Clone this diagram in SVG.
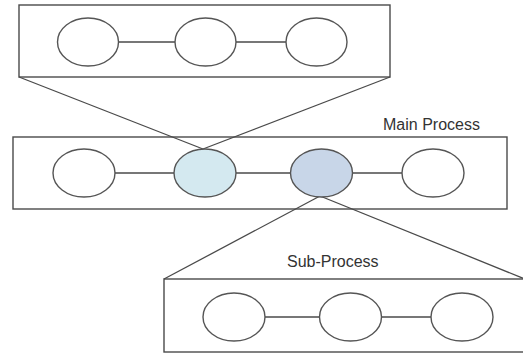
<svg xmlns="http://www.w3.org/2000/svg" width="523" height="353" viewBox="0 0 523 353">
<style>
.box{fill:none;stroke:#4a4a4a;stroke-width:1.4}
.node{fill:#fff;stroke:#555;stroke-width:1.4}
.ln{stroke:#4a4a4a;stroke-width:1.3;fill:none}
.lbl{font-family:"Liberation Sans",Arial,sans-serif;font-size:16px;fill:#333}
</style>
<rect width="523" height="353" fill="#fff"/>
<g id="top-box"><rect class="box" x="19" y="5" width="371" height="72"/></g>
<g id="main-box"><rect class="box" x="13" y="137" width="494" height="72"/><text class="lbl" x="383" y="130">Main Process</text></g>
<g id="sub-box"><rect class="box" x="164" y="279" width="370" height="73"/><text class="lbl" x="287" y="267">Sub-Process</text></g>
<g id="connectors">
<line class="ln" x1="118" y1="42" x2="175" y2="42"/>
<line class="ln" x1="236" y1="42" x2="286" y2="42"/>
<line class="ln" x1="115" y1="173" x2="174" y2="173"/>
<line class="ln" x1="236" y1="173" x2="291" y2="173"/>
<line class="ln" x1="352" y1="173" x2="402" y2="173"/>
<line class="ln" x1="265" y1="317" x2="320" y2="317"/>
<line class="ln" x1="381" y1="317" x2="431" y2="317"/>
<line class="ln" x1="19" y1="77" x2="203" y2="149"/>
<line class="ln" x1="390" y1="77" x2="203" y2="149"/>
<line class="ln" x1="320" y1="196" x2="164" y2="279"/>
<line class="ln" x1="320" y1="196" x2="525" y2="279"/>
</g>
<g id="t1"><ellipse class="node" cx="88" cy="42" rx="30.5" ry="24"/></g>
<g id="t2"><ellipse class="node" cx="205.5" cy="42" rx="30.5" ry="24"/></g>
<g id="t3"><ellipse class="node" cx="316.5" cy="42" rx="30.5" ry="24"/></g>
<g id="m1"><ellipse class="node" cx="84" cy="173" rx="31" ry="24"/></g>
<g id="m2"><ellipse class="node" cx="205" cy="173" rx="31" ry="24" style="fill:#d4e9f0"/></g>
<g id="m3"><ellipse class="node" cx="321.5" cy="173" rx="31" ry="24" style="fill:#c8d6e8"/></g>
<g id="m4"><ellipse class="node" cx="433" cy="173" rx="31" ry="24"/></g>
<g id="s1"><ellipse class="node" cx="234" cy="317" rx="31" ry="24"/></g>
<g id="s2"><ellipse class="node" cx="350.5" cy="317" rx="31" ry="24"/></g>
<g id="s3"><ellipse class="node" cx="462" cy="317" rx="31" ry="24"/></g>
</svg>
